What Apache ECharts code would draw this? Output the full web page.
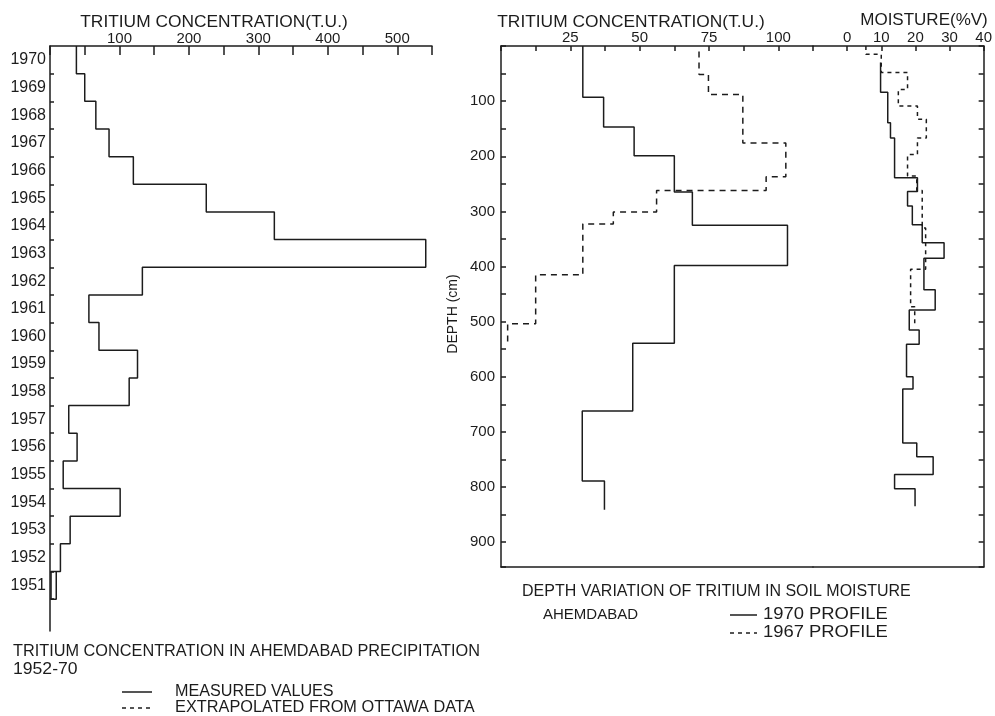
<!DOCTYPE html>
<html><head><meta charset="utf-8">
<script src="https://cdn.jsdelivr.net/npm/echarts@6/dist/echarts.min.js"></script>
<style>html,body{margin:0;padding:0;background:#fff}#c{width:995px;height:716px}</style>
</head><body><div id="c"></div>
<script>
// ---- Left panel: tritium in Ahemdabad precipitation (T.U.) by year ----
const years = [1951,1952,1953,1954,1955,1956,1957,1958,1959,1960,1961,1962,1963,1964,1965,1966,1967,1968,1969,1970];
const precipTU = [9,15,29,101,19,39,27,114,126,70.5,56,133,541,323,225,120,85,66,50,38];
const precip1951Inner = 1.5; // inner edge of the 1951 outline box
const precipTicks = [0,100,200,300,400,500];

// ---- Right panel: tritium depth profiles (boundaries in cm, values in T.U.) ----
const tu1970Depth = [0,93,147,199,265,325,398,539,662,789,841];
const tu1970Value = [29.5,37,48,62.5,69,103.3,62.5,47.5,29.3,37.3];
const tu1967Depth = [10,51.5,88,176,237,262,301,323,415,504,542];
const tu1967Value = [71.4,74.8,87.2,102.7,95.6,56.1,40.5,29.5,12.5,2.4];

// ---- Moisture profiles (%V) ----
const moist1970Depth = [30,84,139,167,239,264,290,324,357,385,442,479,515,541,600,622,720,745,777,803,835];
const moist1970Value = [9.8,11.9,12.7,13.9,20.6,17.7,19.1,22,28.4,22.5,25.8,18.2,21.1,17.4,19.3,16.3,20.4,25.2,13.9,19.9];
const moist1967Depth = [0,15,48,79,109,133,167,197,236,262,330,405,473,509];
const moist1967Value = [5.5,10,17.7,15,20.6,23.2,20.6,17.7,20.4,22,23,18.6,19.8];

const depthLabels = [100,200,300,400,500,600,700,800,900];

function stepPath(bounds, vals){
  const pts=[];
  for(let i=0;i<vals.length;i++){ pts.push([vals[i],bounds[i]]); pts.push([vals[i],bounds[i+1]]); }
  return pts;
}
function precipPath(){
  const pts=[];
  for(let i=years.length-1;i>=1;i--){ pts.push([precipTU[i],years[i]+0.5]); pts.push([precipTU[i],years[i]-0.5]); }
  const y0=years[0];
  pts.push([precip1951Inner,y0+0.5]); pts.push([precip1951Inner,y0-0.5]);
  pts.push([precipTU[0],y0-0.5]); pts.push([precipTU[0],y0+0.5]);
  return pts;
}

const FONT='"Liberation Sans", Arial, sans-serif';
const INK='#1c1c1c';
const axisLine={show:true,onZero:false,lineStyle:{color:INK,width:1.5}};
const chart=echarts.init(document.getElementById('c'),null,{renderer:'canvas'});

function txt(x,y,s,size,align,sx,extra){
  return Object.assign({type:'text',x:x,y:y,scaleX:sx||1,style:{text:s,fill:INK,font:size+'px '+FONT,textAlign:align||'left',textVerticalAlign:'middle'}},extra||{});
}
function seg(x1,y1,x2,y2,dash){
  return {type:'line',shape:{x1:x1,y1:y1,x2:x2,y2:y2},style:{stroke:INK,lineWidth:1.5,lineDash:dash||null}};
}

chart.setOption({
  animation:false,
  backgroundColor:'#fff',
  grid:[
    {left:50,top:46,width:382,height:585},
    {left:501,top:46,width:312,height:521},
    {left:813,top:46,width:174,height:521}
  ],
  xAxis:[
    {gridIndex:0,type:'value',position:'top',min:0,max:550,interval:50,
      axisLine:axisLine,splitLine:{show:false},
      axisTick:{inside:true,length:9,lineStyle:{color:INK,width:1.5}},
      axisLabel:{margin:0,color:INK,fontSize:15,fontFamily:FONT,formatter:v=>precipTicks.includes(v)&&v>0?String(v):''}},
    {gridIndex:1,type:'value',position:'top',min:0,max:112.5,interval:12.5,
      axisLine:axisLine,splitLine:{show:false},
      axisTick:{inside:true,length:5,lineStyle:{color:INK,width:1.5}},
      axisLabel:{margin:1,color:INK,fontSize:15,fontFamily:FONT,formatter:v=>(v%25===0&&v>0&&v<=100)?String(v):''}},
    {gridIndex:1,type:'value',position:'bottom',min:0,max:112.5,
      axisLine:axisLine,splitLine:{show:false},axisTick:{show:false},axisLabel:{show:false}},
    {gridIndex:2,type:'value',position:'top',min:-10,max:40,interval:10,
      axisLine:axisLine,splitLine:{show:false},
      axisTick:{inside:true,length:5,lineStyle:{color:INK,width:1.5}},
      axisLabel:{margin:1,color:INK,fontSize:15,fontFamily:FONT,formatter:v=>v>=0?String(v):''}},
    {gridIndex:2,type:'value',position:'bottom',min:-10,max:40,
      axisLine:axisLine,splitLine:{show:false},axisTick:{show:false},axisLabel:{show:false}}
  ],
  yAxis:[
    {gridIndex:0,type:'value',min:1949.35,max:1970.5,
      axisLine:axisLine,splitLine:{show:false},
      axisTick:{show:true,inside:true,length:4,customValues:years.slice(0,-1).map(y=>y+0.5).concat([1950.5]),lineStyle:{color:INK,width:1.5}},
      axisLabel:{show:true,margin:4,color:INK,fontSize:16,fontFamily:FONT,customValues:years,formatter:v=>String(Math.round(v))}},
    {gridIndex:1,type:'value',inverse:true,min:0,max:945,interval:50,
      axisLine:axisLine,splitLine:{show:false},
      axisTick:{inside:true,length:5,lineStyle:{color:INK,width:1.5}},
      axisLabel:{margin:6,color:INK,fontSize:15,fontFamily:FONT,formatter:v=>depthLabels.includes(v)?String(v):''}},
    {gridIndex:2,type:'value',position:'right',inverse:true,min:0,max:945,interval:50,
      axisLine:axisLine,splitLine:{show:false},
      axisTick:{inside:true,length:5,lineStyle:{color:INK,width:1.5}},
      axisLabel:{show:false}}
  ],
  series:[
    {type:'line',xAxisIndex:0,yAxisIndex:0,data:precipPath(),symbol:'none',lineStyle:{color:INK,width:1.5}},
    {type:'line',xAxisIndex:1,yAxisIndex:1,data:stepPath(tu1970Depth,tu1970Value),symbol:'none',lineStyle:{color:INK,width:1.5}},
    {type:'line',xAxisIndex:1,yAxisIndex:1,data:stepPath(tu1967Depth,tu1967Value),symbol:'none',lineStyle:{color:INK,width:1.5,type:[6,5]}},
    {type:'line',xAxisIndex:3,yAxisIndex:2,data:stepPath(moist1970Depth,moist1970Value),symbol:'none',lineStyle:{color:INK,width:1.5}},
    {type:'line',xAxisIndex:3,yAxisIndex:2,data:stepPath(moist1967Depth,moist1967Value),symbol:'none',lineStyle:{color:INK,width:1.5,type:[4,4]}}
  ],
  graphic:[
    txt(214,22,'TRITIUM CONCENTRATION(T.U.)',17,'center',1.02),
    txt(631,22,'TRITIUM CONCENTRATION(T.U.)',17,'center',1.02),
    txt(924,20,'MOISTURE(%V)',17,'center'),
    {type:'text',x:453,y:314,rotation:Math.PI/2,style:{text:'DEPTH (cm)',fill:INK,font:'14px '+FONT,textAlign:'center',textVerticalAlign:'middle'}},
    txt(13,652,'TRITIUM CONCENTRATION IN AHEMDABAD PRECIPITATION',16,'left',1.018),
    txt(13,670,'1952-70',16,'left',1.1),
    seg(122,692,152,692),
    txt(175,692,'MEASURED VALUES',16,'left',1.01),
    seg(122,708,152,708,[4,4]),
    txt(175,708,'EXTRAPOLATED FROM OTTAWA DATA',16,'left',1.02),
    txt(522,592,'DEPTH VARIATION OF TRITIUM IN SOIL MOISTURE',16,'left'),
    txt(543,615,'AHEMDABAD',15,'left'),
    seg(730,615,757,615),
    txt(763,615,'1970 PROFILE',16,'left',1.15),
    seg(730,633,757,633,[4,4]),
    txt(763,633,'1967 PROFILE',16,'left',1.15)
  ]
});
</script></body></html>
